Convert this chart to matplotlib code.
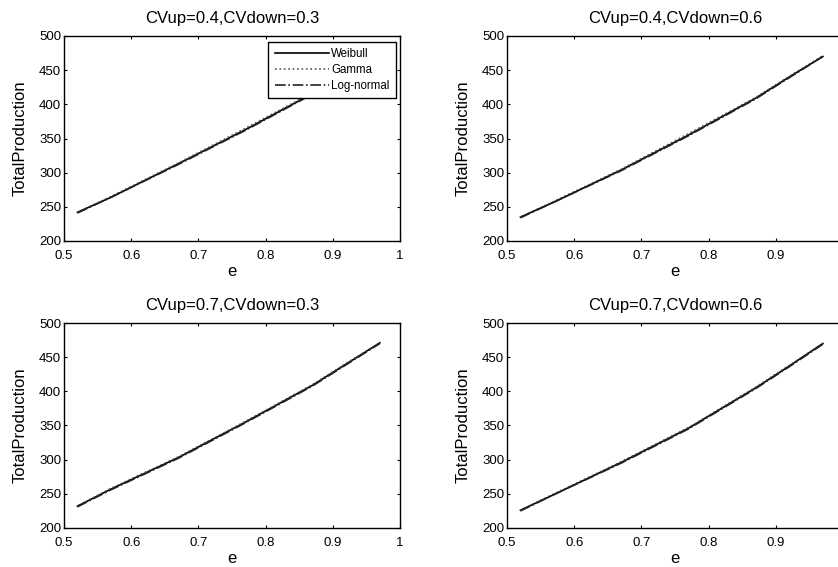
import matplotlib
matplotlib.use("Agg")
import matplotlib.pyplot as plt

plt.rcParams['font.family'] = ['Liberation Sans', 'DejaVu Sans']

# ---- data ----
e_vals = [0.52, 0.57, 0.67, 0.77, 0.87, 0.92, 0.97]

titles = ["CVup=0.4,CVdown=0.3", "CVup=0.4,CVdown=0.6",
          "CVup=0.7,CVdown=0.3", "CVup=0.7,CVdown=0.6"]

weibull_1 = [242, 264, 313, 363, 416, 443, 472]
gamma_1 = [242, 265, 314, 365, 417, 444, 472]
lognormal_1 = [241, 264, 312, 362, 415, 442, 471]

weibull_2 = [235, 257, 304, 355, 409, 440, 470]
gamma_2 = [235, 258, 305, 357, 410, 441, 471]
lognormal_2 = [234, 257, 303, 354, 408, 439, 470]

weibull_3 = [232, 257, 303, 355, 409, 440, 471]
gamma_3 = [232, 258, 304, 356, 410, 441, 471]
lognormal_3 = [231, 256, 302, 354, 408, 439, 470]

weibull_4 = [226, 249, 296, 346, 405, 437, 470]
gamma_4 = [226, 250, 297, 347, 406, 438, 470]
lognormal_4 = [225, 249, 295, 345, 404, 436, 469]

series = [
    (weibull_1, gamma_1, lognormal_1),
    (weibull_2, gamma_2, lognormal_2),
    (weibull_3, gamma_3, lognormal_3),
    (weibull_4, gamma_4, lognormal_4),
]
labels = ["Weibull", "Gamma", "Log-normal"]
xticks = [0.5, 0.6, 0.7, 0.8, 0.9, 1.0]
xticklabels = ["0.5", "0.6", "0.7", "0.8", "0.9", "1"]
yticks = [200, 250, 300, 350, 400, 450, 500]

W, H = 838, 567
fig = plt.figure(figsize=(W / 100, H / 100), dpi=100)

# axes rectangles in pixels: (left, top, right, bottom)
rects_px = [(64, 36, 400, 241), (507, 36, 843, 241),
            (64, 323, 400, 528), (507, 323, 843, 528)]

styles = [dict(color='black', ls='-', lw=1.2),
          dict(color='#555555', ls=':', lw=1.2),
          dict(color='#222222', ls='-.', lw=1.2)]

for i, (l, t, r, b) in enumerate(rects_px):
    ax = fig.add_axes([l / W, 1 - b / H, (r - l) / W, (b - t) / H])
    for s, lab, st in zip(series[i], labels, styles):
        ax.plot(e_vals, s, label=lab, **st)
    ax.set_xlim(0.5, 1.0)
    ax.set_ylim(200, 500)
    ax.set_xticks(xticks)
    if r > W:
        # the last tick label falls outside the figure in the original
        ax.set_xticklabels(xticklabels[:-1] + [""])
    else:
        ax.set_xticklabels(xticklabels)
    ax.set_yticks(yticks)
    ax.tick_params(direction='in', top=True, right=True, length=2.5,
                   width=0.8, labelsize=9.5, colors='black')
    ax.tick_params(axis='x', pad=6.5)
    ax.tick_params(axis='y', pad=2)
    for sp in ax.spines.values():
        sp.set_linewidth(1.0)
        sp.set_color('black')
    ax.set_title(titles[i], fontsize=12, pad=9.5)
    ax.set_xlabel("e", fontsize=12, labelpad=1.5)
    ax.set_ylabel("TotalProduction", fontsize=12, labelpad=8.5)
    if i == 0:
        leg = ax.legend(loc='upper right', bbox_to_anchor=(1 - 4 / 336, 1 - 6 / 205),
                        borderaxespad=0, fontsize=8.3, handlelength=4.7,
                        handletextpad=0.2, labelspacing=0.32, borderpad=0.55,
                        fancybox=False, framealpha=1, edgecolor='black')
        leg.get_frame().set_linewidth(1.0)

fig.savefig("out.png", dpi=100)
